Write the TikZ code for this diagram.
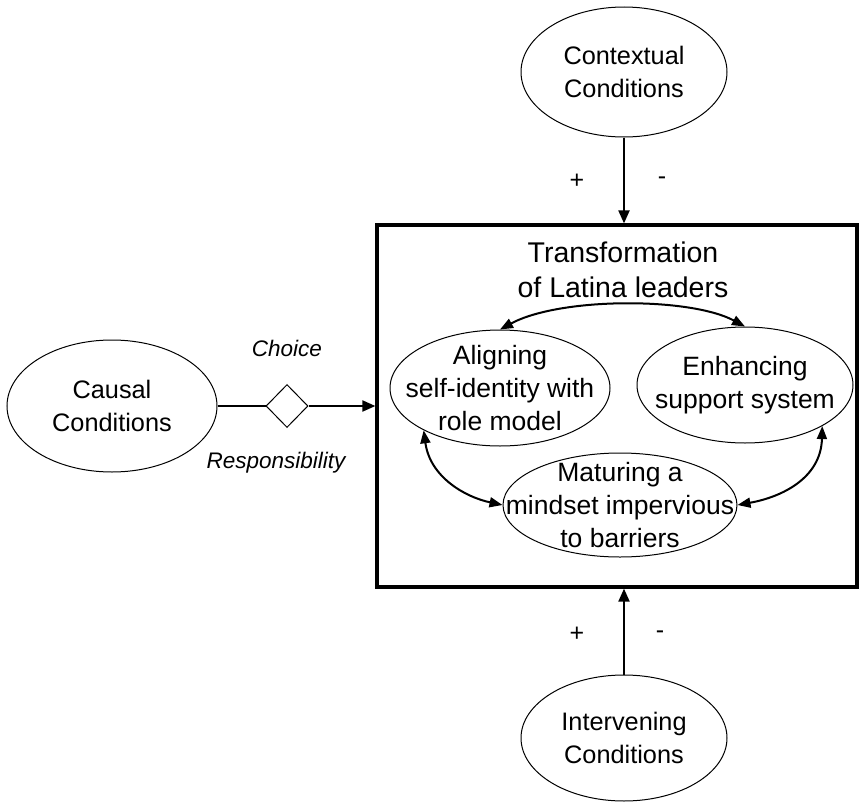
\documentclass[tikz,border=0pt]{standalone}
\usepackage{fontspec}
\setmainfont{Liberation Sans}
\usetikzlibrary{arrows.meta,shapes.geometric}

\tikzset{
  oval/.style={ellipse, draw, line width=1pt, inner sep=0pt},
  condtext/.style={align=center, inner sep=0pt, font=\fontsize{25.3}{33}\selectfont},
  phasetext/.style={align=center, inner sep=0pt, font=\fontsize{26.5}{33}\selectfont},
  flow/.style={line width=2pt, -{Triangle[length=13pt,width=11pt]}},
  link/.style={line width=2pt, {Triangle[length=13pt,width=10pt]}-{Triangle[length=13pt,width=10pt]}},
  sign/.style={font=\fontsize{25}{25}\selectfont},
  lbl/.style={font=\fontsize{22.5}{26}\selectfont\itshape}
}

\begin{document}
\begin{tikzpicture}[x=1pt, y=-1pt]
  \useasboundingbox (0,0) rectangle (860,803);

  % central phenomenon frame
  \node[draw, line width=3.2pt, minimum width=480pt, minimum height=362pt, inner sep=0pt]
    (frame) at (617,406) {};
  \node[align=center, font=\fontsize{28.5}{35}\selectfont] (title) at (623,270)
    {Transformation\\of Latina leaders};

  % conditions
  \node[oval, minimum width=206pt, minimum height=130pt] (ctx) at (624,72) {};
  \node[condtext] (ctxtext) at (ctx.center) {Contextual\\Conditions};
  \node[oval, minimum width=210pt, minimum height=132pt] (cause) at (112,406) {};
  \node[condtext] (causetext) at (cause.center) {Causal\\Conditions};
  \node[oval, minimum width=206pt, minimum height=126pt] (inter) at (624,738) {};
  \node[condtext] (intertext) at (inter.center) {Intervening\\Conditions};

  % choice / responsibility gate
  \node[diamond, draw, line width=1pt, minimum width=42pt, minimum height=43pt, inner sep=0pt]
    (gate) at (287,406) {};
  \node[lbl] (choice) at (287,348) {Choice};
  \node[lbl] (resp) at (276,463) {Responsibility};

  % three phases
  \node[oval, minimum width=220pt, minimum height=116pt] (align) at (500,388) {};
  \node[phasetext] (aligntext) at (align.center) {Aligning\\self-identity with\\role model};
  \node[oval, minimum width=216pt, minimum height=116pt] (enh) at (745,385) {};
  \node[phasetext] (enhtext) at (enh.center) {Enhancing\\support system};
  \node[oval, minimum width=234pt, minimum height=104pt] (mat) at (620,505) {};
  \node[phasetext] (mattext) at (mat.center) {Maturing a\\mindset impervious\\to barriers};

  % influences on the frame
  \draw[flow] (ctx.south) -- (ctx.south |- frame.north);
  \draw[flow] (inter.north) -- (inter.north |- frame.south);
  \draw[line width=2pt] (cause.east) -- (gate.west);
  \draw[flow] (gate.east) -- (frame.west);

  \node[sign] (ctxplus) at (577,181) {+};
  \node[sign] (ctxminus) at (662,181) {-};
  \node[sign] (intplus) at (577,634) {+};
  \node[sign] (intminus) at (660,635) {-};

  % links between phases
  \draw[link] (align.north) .. controls (560,297) and (690,297) .. (enh.north);
  \draw[link] (align.209) .. controls (430,477) and (465,497) .. (mat.west);
  \draw[link] (enh.332) .. controls (821,478) and (782,497) .. (mat.east);
\end{tikzpicture}
\end{document}
